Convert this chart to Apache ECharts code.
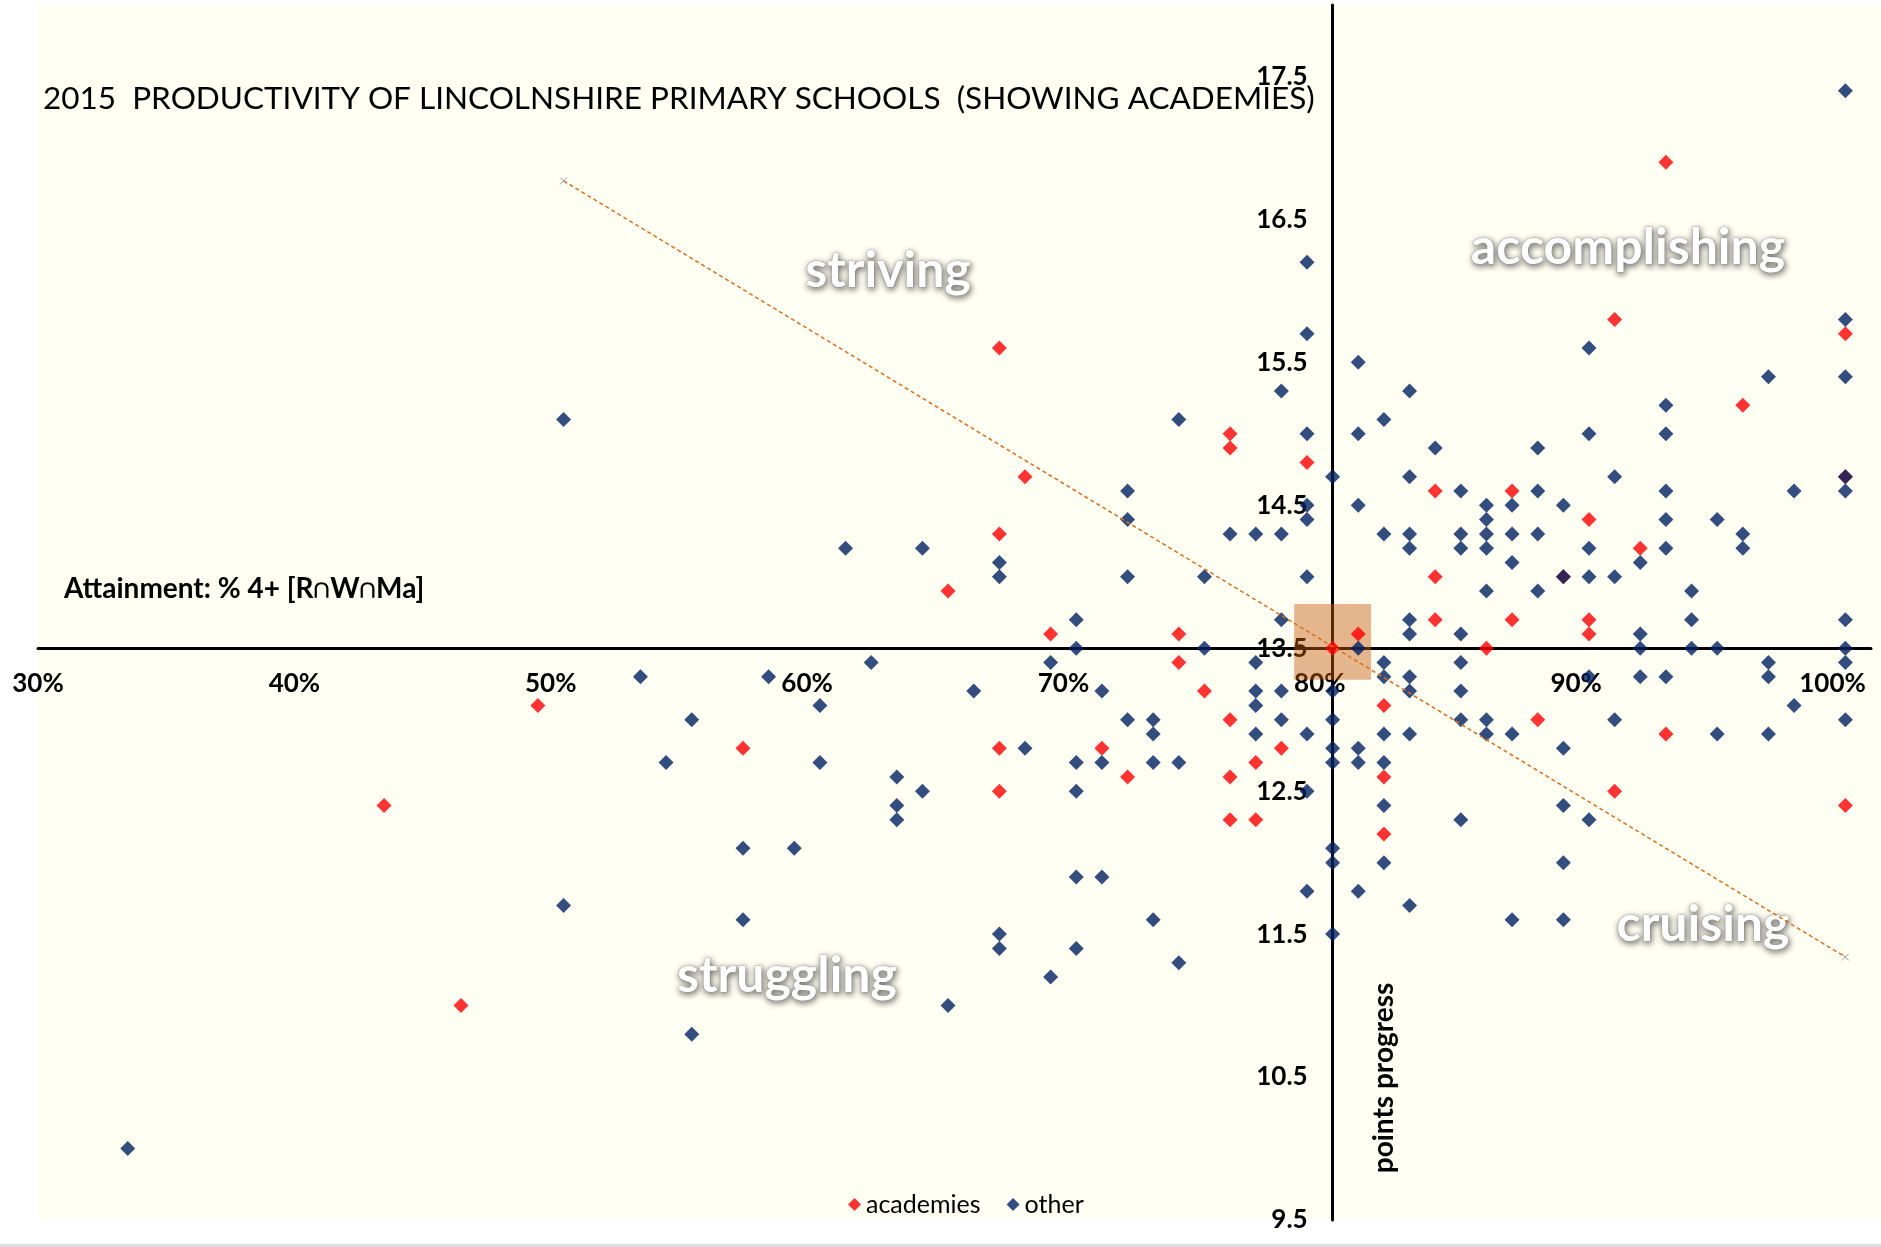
<!DOCTYPE html>
<html lang="en">
<head>
  <meta charset="utf-8">
  <title>2015 Productivity of Lincolnshire Primary Schools</title>
  <script src="https://cdn.jsdelivr.net/npm/echarts@6.0.0/dist/echarts.min.js"></script>
  <style>
    html, body { margin: 0; background: #fff; }
    #chart { width: 1881px; height: 1247px; }
  </style>
</head>
<body>
<div id="chart"></div>
<script>
// x = attainment (% level 4+ in R, W and Ma), y = points progress
var academies = [
  [67.5,15.6],[93.5,16.9],[91.5,15.8],[100.5,15.7],[96.5,15.2],
  [76.5,15.0],[76.5,14.9],[79.5,14.8],[68.5,14.7],[100.5,14.7],[84.5,14.6],[87.5,14.6],
  [90.5,14.4],[67.5,14.3],[92.5,14.2],[84.5,14.0],[89.5,14.0],[65.5,13.9],
  [84.5,13.7],[87.5,13.7],[90.5,13.7],[69.5,13.6],[74.5,13.6],[81.5,13.6],[90.5,13.6],
  [80.5,13.5],[86.5,13.5],[74.5,13.4],[75.5,13.2],[49.5,13.1],[82.5,13.1],
  [76.5,13.0],[88.5,13.0],[93.5,12.9],[57.5,12.8],[67.5,12.8],[71.5,12.8],[78.5,12.8],
  [77.5,12.7],[72.5,12.6],[76.5,12.6],[82.5,12.6],[67.5,12.5],[91.5,12.5],
  [43.5,12.4],[100.5,12.4],[76.5,12.3],[77.5,12.3],[82.5,12.2],[46.5,11.0]
];
var others = [
  [100.5,17.4],[79.5,16.2],[100.5,15.8],[79.5,15.7],[90.5,15.6],[81.5,15.5],
  [97.5,15.4],[100.5,15.4],[78.5,15.3],[83.5,15.3],[93.5,15.2],
  [50.5,15.1],[74.5,15.1],[82.5,15.1],
  [79.5,15.0],[81.5,15.0],[90.5,15.0],[93.5,15.0],
  [84.5,14.9],[88.5,14.9],
  [80.5,14.7],[83.5,14.7],[91.5,14.7],[100.5,14.7],
  [72.5,14.6],[85.5,14.6],[88.5,14.6],[93.5,14.6],[98.5,14.6],[100.5,14.6],
  [79.5,14.5],[81.5,14.5],[86.5,14.5],[87.5,14.5],[89.5,14.5],
  [72.5,14.4],[79.5,14.4],[86.5,14.4],[93.5,14.4],[95.5,14.4],
  [76.5,14.3],[77.5,14.3],[78.5,14.3],[82.5,14.3],[83.5,14.3],[85.5,14.3],[86.5,14.3],[87.5,14.3],[88.5,14.3],[96.5,14.3],
  [61.5,14.2],[64.5,14.2],[83.5,14.2],[85.5,14.2],[86.5,14.2],[90.5,14.2],[93.5,14.2],[96.5,14.2],
  [67.5,14.1],[87.5,14.1],[92.5,14.1],
  [67.5,14.0],[72.5,14.0],[75.5,14.0],[79.5,14.0],[89.5,14.0],[90.5,14.0],[91.5,14.0],
  [86.5,13.9],[88.5,13.9],[94.5,13.9],
  [70.5,13.7],[78.5,13.7],[83.5,13.7],[94.5,13.7],[100.5,13.7],
  [83.5,13.6],[85.5,13.6],[92.5,13.6],
  [70.5,13.5],[75.5,13.5],[81.5,13.5],[92.5,13.5],[94.5,13.5],[95.5,13.5],[100.5,13.5],
  [62.5,13.4],[69.5,13.4],[77.5,13.4],[82.5,13.4],[85.5,13.4],[97.5,13.4],[100.5,13.4],
  [53.5,13.3],[58.5,13.3],[82.5,13.3],[83.5,13.3],[90.5,13.3],[92.5,13.3],[93.5,13.3],[97.5,13.3],
  [66.5,13.2],[71.5,13.2],[77.5,13.2],[78.5,13.2],[80.5,13.2],[83.5,13.2],[85.5,13.2],
  [60.5,13.1],[77.5,13.1],[98.5,13.1],
  [55.5,13.0],[72.5,13.0],[73.5,13.0],[78.5,13.0],[80.5,13.0],[85.5,13.0],[86.5,13.0],[91.5,13.0],[100.5,13.0],
  [73.5,12.9],[77.5,12.9],[79.5,12.9],[82.5,12.9],[83.5,12.9],[86.5,12.9],[87.5,12.9],[95.5,12.9],[97.5,12.9],
  [68.5,12.8],[80.5,12.8],[81.5,12.8],[89.5,12.8],
  [54.5,12.7],[60.5,12.7],[70.5,12.7],[71.5,12.7],[73.5,12.7],[74.5,12.7],[80.5,12.7],[81.5,12.7],[82.5,12.7],
  [63.5,12.6],
  [64.5,12.5],[70.5,12.5],[79.5,12.5],
  [63.5,12.4],[82.5,12.4],[89.5,12.4],
  [63.5,12.3],[85.5,12.3],[90.5,12.3],
  [57.5,12.1],[59.5,12.1],[80.5,12.1],
  [80.5,12.0],[82.5,12.0],[89.5,12.0],
  [70.5,11.9],[71.5,11.9],
  [79.5,11.8],[81.5,11.8],
  [50.5,11.7],[83.5,11.7],
  [57.5,11.6],[73.5,11.6],[87.5,11.6],[89.5,11.6],
  [67.5,11.5],[80.5,11.5],
  [67.5,11.4],[70.5,11.4],
  [74.5,11.3],[69.5,11.2],[65.5,11.0],[55.5,10.8],[33.5,10.0]
];
var trendEnds = [[50.5, 16.77], [100.5, 11.34]];
var medianBox = [[79, 13.28], [82, 13.81]];
var crossAt = [80.5, 13.5];

var W = 1881, H = 1247;
var gridLeft = 38, gridRight = 10, gridTop = 5, gridBottom = 27;
var xMin = 30, xMax = 101.5, yMin = 9.5, yMax = 18;

// where the two axes cross, in pixels inside the grid
var plotW = W - gridLeft - gridRight, plotH = H - gridTop - gridBottom;
var crossPx = gridLeft + (crossAt[0] - xMin) / (xMax - xMin) * plotW;
var crossPy = gridTop + (yMax - crossAt[1]) / (yMax - yMin) * plotH;

var chart = echarts.init(document.getElementById('chart'), null, { renderer: 'canvas' });

var quadLabel = function (text, x, y, size) {
  return {
    type: 'text', x: x, y: y, z: 3, silent: true,
    style: {
      text: text, fill: '#ffffff', font: 'bold ' + size + 'px Lato',
      align: 'center', verticalAlign: 'middle',
      stroke: '#c8c8c8', lineWidth: 1.2,
      textShadowColor: 'rgba(0,0,0,0.55)', textShadowBlur: 6,
      textShadowOffsetX: 1, textShadowOffsetY: 2
    }
  };
};

var option = {
  backgroundColor: '#ffffff',
  animation: false,
  grid: {
    left: gridLeft, right: gridRight, top: gridTop, bottom: gridBottom,
    containLabel: false, outerBoundsMode: 'none'
  },
  legend: {
    data: ['academies', 'other'],
    left: 843, top: 1187,
    icon: 'diamond', itemWidth: 13, itemHeight: 13, itemGap: 26,
    textStyle: { fontFamily: 'Lato', fontSize: 25, color: '#000' }
  },
  graphic: [
    { type: 'rect', z: -10, silent: true, shape: { x: 37, y: 5, width: 1844, height: 1215 }, style: { fill: '#fffff3' } },
    { type: 'rect', z: -10, silent: true, shape: { x: 0, y: 1244, width: 1881, height: 3 }, style: { fill: '#dcdcdc' } },
    {
      type: 'text', x: 43, y: 99, z: 3, silent: true,
      style: { text: '2015  PRODUCTIVITY OF LINCOLNSHIRE PRIMARY SCHOOLS  (SHOWING ACADEMIES)', fill: '#000', font: '31.5px Lato', verticalAlign: 'middle' }
    },
    {
      type: 'text', x: 64, y: 589, z: 3, silent: true,
      style: { text: 'Attainment: % 4+ [R\u2229W\u2229Ma]', fill: '#000', font: 'bold 28px Lato', verticalAlign: 'middle' }
    },
    {
      type: 'text', x: 1384, y: 1078, rotation: Math.PI / 2, z: 3, silent: true,
      style: { text: 'points progress', fill: '#000', font: 'bold 28px Lato', align: 'center', verticalAlign: 'middle' }
    },
    quadLabel('striving', 888, 271, 50),
    quadLabel('accomplishing', 1628, 248, 50),
    quadLabel('struggling', 787, 976, 50),
    quadLabel('cruising', 1703, 925, 50)
  ],
  xAxis: {
    type: 'value', min: xMin, max: xMax, interval: 10,
    position: 'bottom',
    offset: -(H - gridBottom - crossPy),
    axisLine: { onZero: false, lineStyle: { color: '#000', width: 3 } },
    axisTick: { show: false },
    splitLine: { show: false },
    axisLabel: {
      margin: 22, color: '#000', fontFamily: 'Lato', fontWeight: 'bold', fontSize: 26,
      showMaxLabel: false,
      formatter: function (v) { return v % 10 === 0 ? v + '%' : ''; }
    }
  },
  yAxis: {
    type: 'value', min: yMin, max: yMax, interval: 0.5,
    position: 'left',
    offset: -(crossPx - gridLeft),
    axisLine: { onZero: false, lineStyle: { color: '#000', width: 3 } },
    axisTick: { show: false },
    splitLine: { show: false },
    axisLabel: {
      margin: 25, color: '#000', fontFamily: 'Lato', fontWeight: 'bold', fontSize: 26,
      showMaxLabel: false,
      formatter: function (v) { return Math.abs((v - 9.5) % 1) < 1e-6 ? v.toFixed(1) : ''; }
    }
  },
  series: [
    {
      name: 'academies', type: 'scatter', symbol: 'diamond', symbolSize: 15,
      itemStyle: { color: '#ff0000' }, data: academies
    },
    {
      name: 'other', type: 'scatter', symbol: 'diamond', symbolSize: 15,
      itemStyle: { color: '#002060' }, data: others
    },
    {
      name: 'box', type: 'scatter', z: 10, data: [],
      markArea: {
        silent: true,
        itemStyle: { color: 'rgba(197,90,17,0.45)' },
        data: [[{ coord: medianBox[0] }, { coord: medianBox[1] }]]
      }
    },
    {
      name: 'trend', type: 'line', z: 11, data: trendEnds,
      symbol: 'path://M0 0L10 10M10 0L0 10', symbolSize: 7,
      itemStyle: { color: 'rgba(0,0,0,0)', borderColor: '#999', borderWidth: 1 },
      lineStyle: { color: '#e06c1a', width: 1.5, type: [4, 3] }
    }
  ]
};

chart.setOption(option);
</script>
</body>
</html>
